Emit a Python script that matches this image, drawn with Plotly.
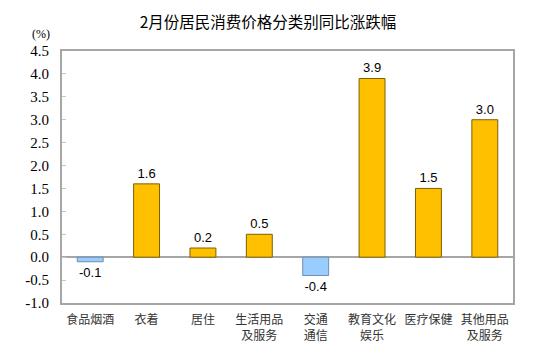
import plotly.graph_objects as go

categories = ["食品烟酒", "衣着", "居住", "生活用品<br>及服务", "交通<br>通信",
              "教育文化<br>娱乐", "医疗保健", "其他用品<br>及服务"]
values = [-0.1, 1.6, 0.2, 0.5, -0.4, 3.9, 1.5, 3.0]
y_ticks = [-1.0, -0.5, 0.0, 0.5, 1.0, 1.5, 2.0, 2.5, 3.0, 3.5, 4.0, 4.5]
title_text = "2月份居民消费价格分类别同比涨跌幅"
unit_text = "(%)"

fill_colors = ["#99CCFF" if v < 0 else "#FFC000" for v in values]
line_colors = ["#6F8FAF" if v < 0 else "#7F6000" for v in values]

SERIF = "Liberation Serif"

fig = go.Figure()
fig.add_trace(go.Bar(
    x=categories, y=values,
    marker=dict(color=fill_colors, line=dict(color=line_colors, width=1)),
    text=[f"{v:.1f}" for v in values],
    textposition="outside",
    textfont=dict(family="Liberation Sans, Arial", size=13, color="#000000"),
    cliponaxis=False,
    width=0.46,
))

fig.update_layout(
    width=542, height=355,
    margin=dict(l=62, r=29, t=51, b=52),
    paper_bgcolor="white", plot_bgcolor="white",
    showlegend=False,
    title=dict(text=title_text, x=268/542, xanchor="center", y=1-23/355, yanchor="middle",
               font=dict(family="Noto Sans CJK SC", size=15.5, color="#000000")),
    xaxis=dict(
        showline=True, linecolor="#A6A6A6", linewidth=2, mirror=True,
        ticks="", showgrid=False, ticklabelstandoff=5,
        tickfont=dict(family="Noto Sans CJK SC", size=12, color="#333333"),
    ),
    yaxis=dict(
        range=[-1.0, 4.5], tickvals=y_ticks, ticktext=[f"{t:.1f}" for t in y_ticks],
        showline=True, linecolor="#A6A6A6", linewidth=2, mirror=True,
        ticks="inside", ticklen=4, tickcolor="#C8C8C8", ticklabelstandoff=8,
        showgrid=False, zeroline=True, zerolinecolor="#A6A6A6", zerolinewidth=1.5,
        tickfont=dict(family=SERIF, size=15, color="#000000"),
    ),
    annotations=[dict(text=unit_text, xref="paper", yref="paper", x=-32/451, y=1+17/252,
                      xanchor="left", yanchor="middle", showarrow=False,
                      font=dict(family=SERIF, size=12, color="#000000"))],
)

fig.write_html("out.html", config={"displayModeBar": False},
               post_script="document.body.style.margin='0';document.body.style.padding='0';")
